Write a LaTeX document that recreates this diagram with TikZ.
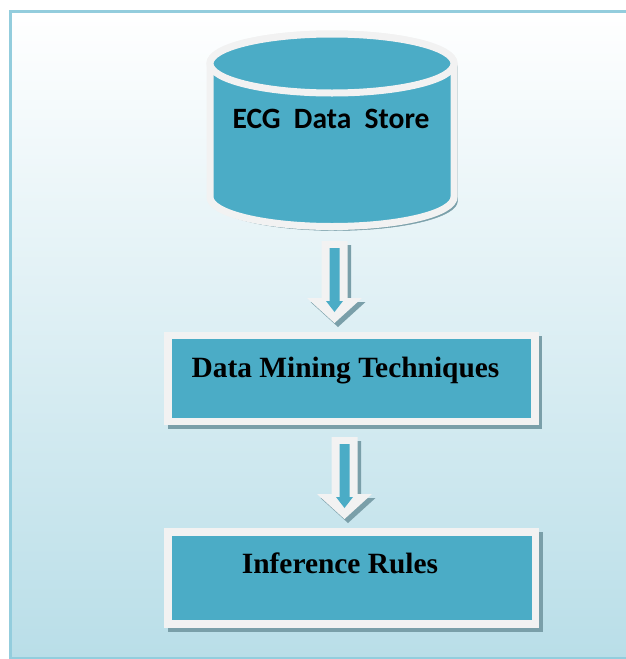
\documentclass[tikz,border=0pt]{standalone}
\usepackage{fontspec}
\setmainfont{Liberation Serif}
\newfontfamily\calib{Carlito}
\usetikzlibrary{calc}

\definecolor{fillblue}{HTML}{4BACC6}
\definecolor{rimwhite}{HTML}{F2F2F2}
\definecolor{shadowgray}{HTML}{7A9FA9}
\definecolor{framecol}{HTML}{93CDDD}
\definecolor{bgbottom}{HTML}{B9DEE8}

\tikzset{
  dropshade/.style={preaction={fill=shadowgray, draw=shadowgray,
      transform canvas={xshift=3.5pt, yshift=-4pt}}},
  cylbody/.style={fill=fillblue, draw=rimwhite, line width=7pt, dropshade},
  cyltop/.style={fill=fillblue, draw=rimwhite, line width=7pt},
  stepbox/.style={rectangle, fill=fillblue, draw=rimwhite, line width=7.5pt,
      inner sep=0pt, outer sep=0pt, dropshade},
  boxlabel/.style={anchor=base, inner sep=0pt, font=\bfseries\fontsize{29.4}{34}\selectfont},
  cyllabel/.style={anchor=base, inner sep=0pt, font=\calib\bfseries\fontsize{29.5}{34}\selectfont},
  arrowouter/.style={fill=rimwhite,
      preaction={fill=shadowgray, transform canvas={xshift=3.5pt, yshift=-4pt}}},
  arrowinner/.style={fill=fillblue},
  pics/downarrow/.style={code={
    \path[arrowouter] (-13,0) -- (-13,57) -- (-27.5,57) -- (0,82)
        -- (27.5,57) -- (13,57) -- (13,0) -- cycle;
    \path[arrowinner] (-5,7) -- (-5,60) -- (-8.5,60) -- (0,71)
        -- (8.5,60) -- (5,60) -- (5,7) -- cycle;
  }}
}

\begin{document}
\begin{tikzpicture}[x=1pt, y=-1pt]
  \useasboundingbox (0,0) rectangle (626,659);

  % page background and frame
  \fill[top color=white, bottom color=bgbottom] (10.7,11.3) rectangle (640,658);
  \draw[framecol, line width=2.7pt] (10.7,11.3) rectangle (640,658);

  % data store cylinder
  \path[cylbody] (210,63.5) -- (210,197)
      arc[start angle=180, end angle=0, x radius=122, y radius=29.5]
      -- (454,63.5)
      arc[start angle=0, end angle=-180, x radius=122, y radius=29.5] -- cycle;
  \path[cyltop] (332,63.5) ellipse[x radius=122, y radius=29.5];
  \node[cyllabel] (ecg) at (331,128) {ECG~~Data~~Store};

  % processing steps
  \node[stepbox, minimum width=367pt, minimum height=86pt] (dm) at (351.5,378.5) {};
  \node[boxlabel] (dmt) at (345.5,377) {Data Mining Techniques};

  \node[stepbox, minimum width=367.5pt, minimum height=92pt] (ir) at (351.75,578) {};
  \node[boxlabel] (irt) at (340,573) {Inference Rules};

  % flow arrows
  \pic (arrA) at (334.5,241) {downarrow};
  \pic (arrB) at (344.5,437) {downarrow};
\end{tikzpicture}
\end{document}
